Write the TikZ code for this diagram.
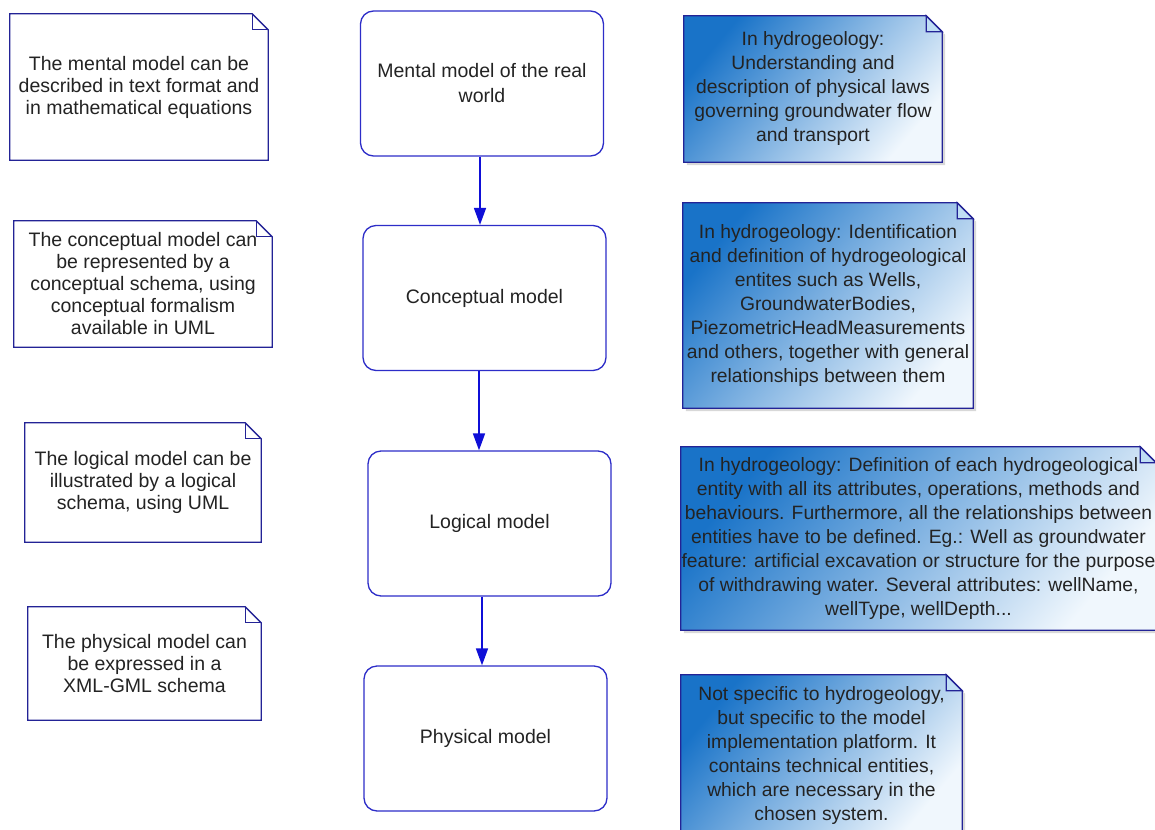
\documentclass[tikz,border=0pt]{standalone}
\usepackage{fontspec}
\setmainfont{Liberation Sans}
\usetikzlibrary{arrows.meta,calc}
\pgfdeclarelayer{background}
\pgfsetlayers{background,main}

\definecolor{notedge}{RGB}{35,35,150}
\definecolor{boxedge}{RGB}{45,45,200}
\definecolor{flowblue}{RGB}{15,15,215}
\definecolor{txt}{RGB}{35,35,35}
\definecolor{deepblue}{RGB}{25,115,200}
\definecolor{midblue}{RGB}{150,200,237}
\definecolor{paleblue}{RGB}{240,247,253}

% outline of a UML note: rectangle with a folded top-right corner
\newcommand\noteoutline[1]{(#1.south west) -- (#1.north west) -- ([xshift=-16pt]#1.north east) -- ([yshift=-16pt]#1.north east) -- (#1.south east) -- cycle}
\newcommand\notefold[1]{([xshift=-16pt]#1.north east) |- ([yshift=-16pt]#1.north east)}

\tikzset{
  x=1pt, y=-1pt,
  every node/.style={text=txt, align=center, inner sep=0pt},
  stage/.style={draw=boxedge, line width=1.3pt, rounded corners=13pt, fill=white,
    minimum width=243pt, minimum height=145pt, font=\fontsize{19.5}{25}\selectfont},
  plainnote/.style={font=\fontsize{19.5}{22}\selectfont},
  bluenote/.style={font=\fontsize{19.3}{24}\selectfont},
  noteline/.style={draw=notedge, line width=1.3pt, line join=miter},
  notefill/.style={top color=deepblue, middle color=midblue, bottom color=paleblue, shading angle=50},
  flow/.style={draw=flowblue, line width=1.7pt, -{Triangle[width=12pt,length=17pt]}},
}

\begin{document}
\begin{tikzpicture}
\useasboundingbox (0,0) rectangle (1155,829);
\clip (0,0) rectangle (1155,829);

% left column: descriptions of each model
\node[plainnote, minimum width=258pt, minimum height=146pt] (L1) at (139,87)
  {The mental model can be\\described in text format and\\in mathematical equations};
\node[plainnote, minimum width=258pt, minimum height=126pt] (L2) at (143,284)
  {The conceptual model can\\be represented by a\\conceptual schema, using\\conceptual formalism\\available in UML};
\node[plainnote, minimum width=236pt, minimum height=119pt] (L3) at (143,482.5)
  {The logical model can be\\illustrated by a logical\\schema, using UML};
\node[plainnote, minimum width=233pt, minimum height=113pt] (L4) at (144.5,663.5)
  {The physical model can\\be expressed in a\\XML-GML schema};

% middle column: the modelling stages
\node[stage] (C1) at (482,83.5) {Mental model of the real\\world};
\node[stage] (C2) at (484.5,298) {Conceptual model};
\node[stage] (C3) at (489.5,523.5) {Logical model};
\node[stage] (C4) at (485.5,738.5) {Physical model};

% right column: the hydrogeology view of each stage
\node[bluenote, minimum width=258pt, minimum height=146pt] (R1) at (813,89)
  {In hydrogeology:\\Understanding and\\description of physical laws\\governing groundwater flow\\and transport};
\node[bluenote, minimum width=290pt, minimum height=205pt] (R2) at (828,305.5)
  {In hydrogeology: Identification\\and definition of hydrogeological\\entites such as Wells,\\GroundwaterBodies,\\PiezometricHeadMeasurements\\and others, together with general\\relationships between them};
\node[bluenote, minimum width=475pt, minimum height=183pt] (R3) at (918.5,538.5)
  {In hydrogeology: Definition of each hydrogeological\\entity with all its attributes, operations, methods and\\behaviours. Furthermore, all the relationships between\\entities have to be defined. Eg.: Well as groundwater\\feature: artificial excavation or structure for the purpose\\of withdrawing water. Several attributes: wellName,\\wellType, wellDepth...};
\node[bluenote, minimum width=281pt, minimum height=160pt] (R4) at (821.5,755)
  {Not specific to hydrogeology,\\but specific to the model\\implementation platform. It\\contains technical entities,\\which are necessary in the\\chosen system.};

% note bodies behind the text
\begin{pgfonlayer}{background}
  \fill[white] (0,0) rectangle (1155,829);
  \foreach \n in {L1,L2,L3,L4} {
    \draw[noteline, fill=white] \noteoutline{\n};
    \draw[noteline] \notefold{\n};
  }
  \begin{scope}[transform canvas={xshift=3pt,yshift=-3pt}]
    \foreach \n in {R1,R2,R3,R4}
      \fill[black!25, opacity=.6] \noteoutline{\n};
  \end{scope}
  \foreach \n in {R1,R2,R3,R4} {
    \shade[notefill] \noteoutline{\n};
    \draw[noteline] \noteoutline{\n};
    \draw[noteline, fill=midblue!60] \notefold{\n} -- cycle;
  }
\end{pgfonlayer}

% flow between stages
\draw[flow] ([xshift=-2pt]C1.south) -- ([xshift=-2pt]C1.south |- C2.north);
\draw[flow] ([xshift=-5.5pt]C2.south) -- ([xshift=-5.5pt]C2.south |- C3.north);
\draw[flow] ([xshift=-7.5pt]C3.south) -- ([xshift=-7.5pt]C3.south |- C4.north);
\end{tikzpicture}
\end{document}
